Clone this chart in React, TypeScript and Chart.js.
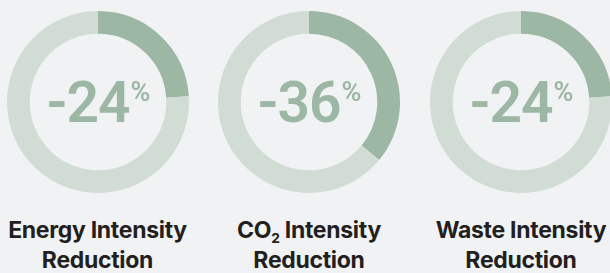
import React, { useEffect, useRef } from "react";
import { Chart, registerables } from "chart.js";

Chart.register(...registerables);

const categories = ["Energy Intensity", "CO2 Intensity", "Waste Intensity"];
const reductionValues = [24, 36, 24];
const remainderValues = [76, 64, 76];
const centerLabels = ["-24", "-36", "-24"];

const DARK = "#9cb8a5";
const LIGHT = "#d1ddd4";
const BG = "#f1f2f4";
const TEXT = "#231f20";

const centers = [97.5, 309, 521];
const SIZE = 182;
const TOP = 11;

const centerTextPlugin = {
  id: "centerText",
  afterDraw(chart: any, _args: any, opts: any) {
    const { ctx, chartArea } = chart;
    const cx = (chartArea.left + chartArea.right) / 2;
    const cy = (chartArea.top + chartArea.bottom) / 2;
    const main = opts.text as string;
    ctx.save();
    ctx.fillStyle = DARK;
    ctx.textBaseline = "alphabetic";
    ctx.textAlign = "left";
    try {
      (ctx as any).letterSpacing = "-1px";
    } catch (e) {}
    ctx.font = "600 57px Roboto";
    const w1 = ctx.measureText(main).width;
    ctx.font = "600 27px Roboto";
    const w2 = ctx.measureText("%").width;
    const gap = 1;
    const x0 = cx - (w1 + gap + w2) / 2;
    ctx.font = "600 57px Roboto";
    ctx.fillText(main, x0, cy + 20);
    ctx.font = "600 27px Roboto";
    ctx.fillText("%", x0 + w1 + gap, cy - 1);
    ctx.restore();
  },
};

function Donut({ index }: { index: number }) {
  const ref = useRef<HTMLCanvasElement | null>(null);
  useEffect(() => {
    if (!ref.current) return;
    const chart = new Chart(ref.current, {
      type: "doughnut",
      data: {
        labels: ["Reduction", "Remainder"],
        datasets: [
          {
            data: [reductionValues[index], remainderValues[index]],
            backgroundColor: [DARK, LIGHT],
            borderWidth: 0,
            hoverOffset: 0,
          },
        ],
      },
      options: {
        responsive: false,
        animation: false,
        cutout: "75%",
        layout: { padding: 0 },
        plugins: {
          legend: { display: false },
          tooltip: { enabled: false },
          centerText: { text: centerLabels[index] },
        } as any,
      },
      plugins: [centerTextPlugin],
    });
    return () => chart.destroy();
  }, [index]);
  return (
    <canvas
      ref={ref}
      width={SIZE}
      height={SIZE}
      style={{
        position: "absolute",
        left: centers[index] - SIZE / 2,
        top: TOP,
        width: SIZE,
        height: SIZE,
      }}
    />
  );
}

function Label({ index }: { index: number }) {
  const name = categories[index];
  const first =
    name === "CO2 Intensity" ? (
      <>
        CO<sub style={{ fontSize: "60%", verticalAlign: "-0.35em", lineHeight: 0 }}>2</sub> Intensity
      </>
    ) : (
      name
    );
  return (
    <div
      style={{
        position: "absolute",
        left: centers[index] - 110,
        width: 220,
        top: 215,
        textAlign: "center",
        fontFamily: "Inter, sans-serif",
        fontWeight: 700,
        fontSize: 23,
        letterSpacing: "-0.3px",
        lineHeight: "30px",
        color: TEXT,
        whiteSpace: "nowrap",
      }}
    >
      <div>{first}</div>
      <div>Reduction</div>
    </div>
  );
}

export default function App() {
  useEffect(() => {
    document.body.style.margin = "0";
    document.body.style.background = BG;
  }, []);
  return (
    <div
      style={{
        position: "relative",
        width: 610,
        height: 273,
        overflow: "hidden",
        background: BG,
      }}
    >
      {[0, 1, 2].map((i) => (
        <Donut key={"d" + i} index={i} />
      ))}
      {[0, 1, 2].map((i) => (
        <Label key={"l" + i} index={i} />
      ))}
    </div>
  );
}
